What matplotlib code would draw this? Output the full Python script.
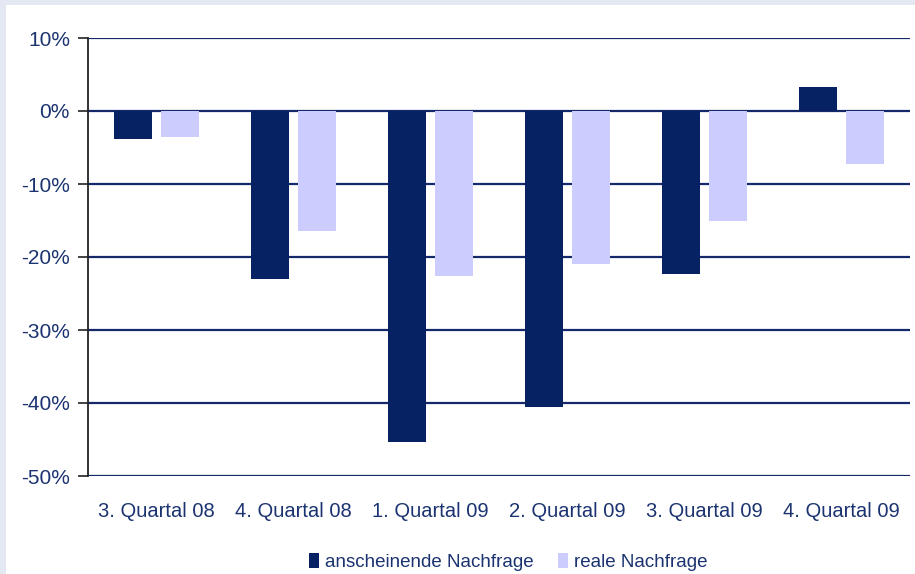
import matplotlib.pyplot as plt
import matplotlib.patches as mpatches
import numpy as np

plt.rcParams['font.family'] = ['Liberation Sans', 'DejaVu Sans']

# data (percent)
quarters = ['3. Quartal 08', '4. Quartal 08', '1. Quartal 09',
            '2. Quartal 09', '3. Quartal 09', '4. Quartal 09']
apparent = [-3.8, -23.0, -45.3, -40.6, -22.3, 3.3]
real = [-3.5, -16.5, -22.6, -20.9, -15.1, -7.2]
yticks = [10, 0, -10, -20, -30, -40, -50]

dark = '#062263'
light = '#ccccff'
text_col = '#1b3370'
grid_col = '#14286a'

fig = plt.figure(figsize=(9.15, 5.74), dpi=100, facecolor='#e4e8f2')
# white panel inside the light frame
fig.patches.append(mpatches.Rectangle((6 / 915, 0), 1, 1 - 5 / 574,
                                      transform=fig.transFigure,
                                      facecolor='white', edgecolor='none', zorder=-5))

ax = fig.add_axes([88 / 915, 1 - 476 / 574, 822 / 915, 438 / 574])
ax.set_facecolor('none')

x = np.arange(len(quarters))
w = 0.28
ax.bar(x - 0.172, apparent, w, color=dark, label='anscheinende Nachfrage', zorder=3)
ax.bar(x + 0.172, real, w, color=light, label='reale Nachfrage', zorder=3)

ax.set_xlim(-0.5, len(quarters) - 0.5)
ax.set_ylim(-50, 10)
ax.set_yticks(yticks)
ax.set_yticklabels([f'{v}%' for v in yticks])
ax.set_xticks(x)
ax.set_xticklabels(quarters)

ax.yaxis.grid(True, color=grid_col, lw=1.6, zorder=2)
ax.set_axisbelow(False)

for s in ['top', 'right', 'bottom']:
    ax.spines[s].set_visible(False)
ax.spines['left'].set_color('#222222')
ax.spines['left'].set_linewidth(1.3)
ax.spines['left'].set_zorder(4)

ax.tick_params(axis='y', length=7, width=1.2, color='#222222', labelsize=15,
               labelcolor=text_col, pad=6)
ax.tick_params(axis='x', length=0, labelsize=14.5, labelcolor=text_col, pad=19)

leg = ax.legend(loc='upper center', bbox_to_anchor=(0.511, -0.138), ncol=2,
                frameon=False, fontsize=13.5, handlelength=0.55, handleheight=0.85,
                handletextpad=0.3, columnspacing=1.3)
for t in leg.get_texts():
    t.set_color(text_col)

fig.savefig('out.png', dpi=100, facecolor=fig.get_facecolor())
